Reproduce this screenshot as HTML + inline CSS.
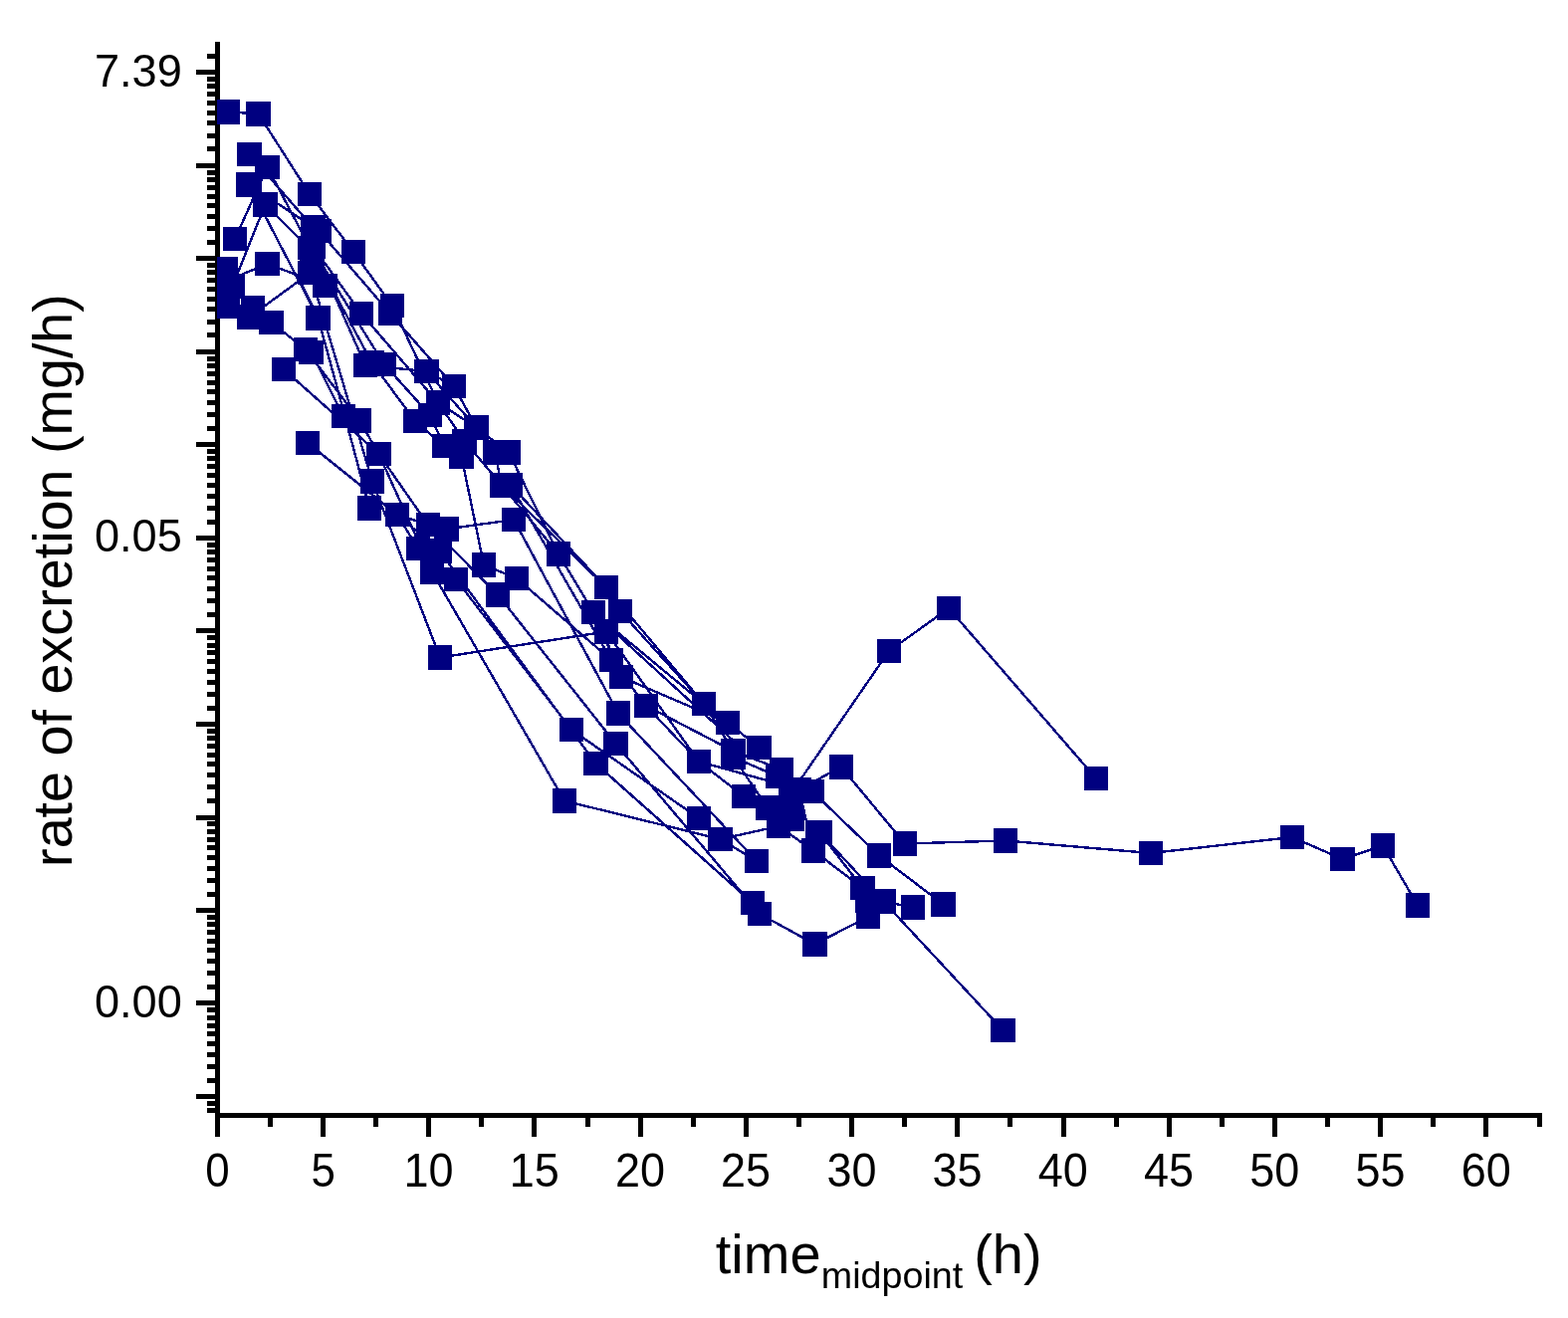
<!DOCTYPE html>
<html><head><meta charset="utf-8"><title>rate of excretion</title>
<style>html,body{margin:0;padding:0;background:#fff}svg{display:block}</style>
</head><body>
<svg width="1575" height="1324" viewBox="0 0 1575 1324">
<defs><clipPath id="c"><rect x="218" y="0" width="1400" height="1118"/></clipPath></defs>
<rect width="1575" height="1324" fill="#fff"/>
<g fill="#000" shape-rendering="crispEdges">
<rect x="216" y="42" width="5" height="1081"/>
<rect x="216" y="1118" width="1333" height="5"/>
<rect x="208" y="54" width="9" height="5"/>
<rect x="197" y="70" width="20" height="5"/>
<rect x="208" y="147" width="9" height="5"/>
<rect x="208" y="134" width="9" height="5"/>
<rect x="208" y="121" width="9" height="5"/>
<rect x="208" y="111" width="9" height="5"/>
<rect x="208" y="101" width="9" height="5"/>
<rect x="208" y="92" width="9" height="5"/>
<rect x="208" y="84" width="9" height="5"/>
<rect x="208" y="77" width="9" height="5"/>
<rect x="197" y="164" width="20" height="5"/>
<rect x="208" y="241" width="9" height="5"/>
<rect x="208" y="227" width="9" height="5"/>
<rect x="208" y="215" width="9" height="5"/>
<rect x="208" y="204" width="9" height="5"/>
<rect x="208" y="195" width="9" height="5"/>
<rect x="208" y="186" width="9" height="5"/>
<rect x="208" y="178" width="9" height="5"/>
<rect x="208" y="171" width="9" height="5"/>
<rect x="197" y="257" width="20" height="5"/>
<rect x="208" y="334" width="9" height="5"/>
<rect x="208" y="321" width="9" height="5"/>
<rect x="208" y="308" width="9" height="5"/>
<rect x="208" y="298" width="9" height="5"/>
<rect x="208" y="288" width="9" height="5"/>
<rect x="208" y="279" width="9" height="5"/>
<rect x="208" y="271" width="9" height="5"/>
<rect x="208" y="264" width="9" height="5"/>
<rect x="197" y="351" width="20" height="5"/>
<rect x="208" y="428" width="9" height="5"/>
<rect x="208" y="414" width="9" height="5"/>
<rect x="208" y="402" width="9" height="5"/>
<rect x="208" y="391" width="9" height="5"/>
<rect x="208" y="382" width="9" height="5"/>
<rect x="208" y="373" width="9" height="5"/>
<rect x="208" y="365" width="9" height="5"/>
<rect x="208" y="358" width="9" height="5"/>
<rect x="197" y="444" width="20" height="5"/>
<rect x="208" y="522" width="9" height="5"/>
<rect x="208" y="508" width="9" height="5"/>
<rect x="208" y="496" width="9" height="5"/>
<rect x="208" y="485" width="9" height="5"/>
<rect x="208" y="475" width="9" height="5"/>
<rect x="208" y="466" width="9" height="5"/>
<rect x="208" y="458" width="9" height="5"/>
<rect x="208" y="451" width="9" height="5"/>
<rect x="197" y="538" width="20" height="5"/>
<rect x="208" y="615" width="9" height="5"/>
<rect x="208" y="601" width="9" height="5"/>
<rect x="208" y="589" width="9" height="5"/>
<rect x="208" y="578" width="9" height="5"/>
<rect x="208" y="569" width="9" height="5"/>
<rect x="208" y="560" width="9" height="5"/>
<rect x="208" y="552" width="9" height="5"/>
<rect x="208" y="545" width="9" height="5"/>
<rect x="197" y="631" width="20" height="5"/>
<rect x="208" y="709" width="9" height="5"/>
<rect x="208" y="695" width="9" height="5"/>
<rect x="208" y="683" width="9" height="5"/>
<rect x="208" y="672" width="9" height="5"/>
<rect x="208" y="662" width="9" height="5"/>
<rect x="208" y="653" width="9" height="5"/>
<rect x="208" y="646" width="9" height="5"/>
<rect x="208" y="638" width="9" height="5"/>
<rect x="197" y="725" width="20" height="5"/>
<rect x="208" y="802" width="9" height="5"/>
<rect x="208" y="788" width="9" height="5"/>
<rect x="208" y="776" width="9" height="5"/>
<rect x="208" y="765" width="9" height="5"/>
<rect x="208" y="756" width="9" height="5"/>
<rect x="208" y="747" width="9" height="5"/>
<rect x="208" y="739" width="9" height="5"/>
<rect x="208" y="732" width="9" height="5"/>
<rect x="197" y="819" width="20" height="5"/>
<rect x="208" y="896" width="9" height="5"/>
<rect x="208" y="882" width="9" height="5"/>
<rect x="208" y="870" width="9" height="5"/>
<rect x="208" y="859" width="9" height="5"/>
<rect x="208" y="849" width="9" height="5"/>
<rect x="208" y="841" width="9" height="5"/>
<rect x="208" y="833" width="9" height="5"/>
<rect x="208" y="825" width="9" height="5"/>
<rect x="197" y="912" width="20" height="5"/>
<rect x="208" y="989" width="9" height="5"/>
<rect x="208" y="975" width="9" height="5"/>
<rect x="208" y="963" width="9" height="5"/>
<rect x="208" y="952" width="9" height="5"/>
<rect x="208" y="943" width="9" height="5"/>
<rect x="208" y="934" width="9" height="5"/>
<rect x="208" y="926" width="9" height="5"/>
<rect x="208" y="919" width="9" height="5"/>
<rect x="197" y="1005" width="20" height="5"/>
<rect x="208" y="1083" width="9" height="5"/>
<rect x="208" y="1069" width="9" height="5"/>
<rect x="208" y="1057" width="9" height="5"/>
<rect x="208" y="1046" width="9" height="5"/>
<rect x="208" y="1036" width="9" height="5"/>
<rect x="208" y="1028" width="9" height="5"/>
<rect x="208" y="1020" width="9" height="5"/>
<rect x="208" y="1012" width="9" height="5"/>
<rect x="197" y="1099" width="20" height="5"/>
<rect x="208" y="1113" width="9" height="5"/>
<rect x="208" y="1106" width="9" height="5"/>
<rect x="216" y="1122" width="5" height="20"/>
<rect x="269" y="1122" width="5" height="10"/>
<rect x="322" y="1122" width="5" height="20"/>
<rect x="375" y="1122" width="5" height="10"/>
<rect x="428" y="1122" width="5" height="20"/>
<rect x="481" y="1122" width="5" height="10"/>
<rect x="534" y="1122" width="5" height="20"/>
<rect x="588" y="1122" width="5" height="10"/>
<rect x="641" y="1122" width="5" height="20"/>
<rect x="694" y="1122" width="5" height="10"/>
<rect x="747" y="1122" width="5" height="20"/>
<rect x="800" y="1122" width="5" height="10"/>
<rect x="853" y="1122" width="5" height="20"/>
<rect x="906" y="1122" width="5" height="10"/>
<rect x="959" y="1122" width="5" height="20"/>
<rect x="1012" y="1122" width="5" height="10"/>
<rect x="1066" y="1122" width="5" height="20"/>
<rect x="1119" y="1122" width="5" height="10"/>
<rect x="1172" y="1122" width="5" height="20"/>
<rect x="1225" y="1122" width="5" height="10"/>
<rect x="1278" y="1122" width="5" height="20"/>
<rect x="1331" y="1122" width="5" height="10"/>
<rect x="1384" y="1122" width="5" height="20"/>
<rect x="1437" y="1122" width="5" height="10"/>
<rect x="1490" y="1122" width="5" height="20"/>
<rect x="1544" y="1122" width="5" height="10"/>
</g>
<g font-family="'Liberation Sans', sans-serif" fill="#000">
<text transform="translate(182.8,86.9) scale(1.003,1.04)" font-size="45" text-anchor="end">7.39</text>
<text transform="translate(182.8,554.3) scale(1.003,1.04)" font-size="45" text-anchor="end">0.05</text>
<text transform="translate(182.8,1021.8) scale(1.003,1.04)" font-size="45" text-anchor="end">0.00</text>
<text transform="translate(218.4,1191.9) scale(0.975,1.065)" font-size="45" text-anchor="middle">0</text>
<text transform="translate(324.6,1191.9) scale(0.975,1.065)" font-size="45" text-anchor="middle">5</text>
<text transform="translate(430.4,1191.9) scale(1.0,1.065)" font-size="45" text-anchor="middle">10</text>
<text transform="translate(536.7,1191.9) scale(1.0,1.065)" font-size="45" text-anchor="middle">15</text>
<text transform="translate(642.9,1191.9) scale(1.0,1.065)" font-size="45" text-anchor="middle">20</text>
<text transform="translate(749.1,1191.9) scale(1.0,1.065)" font-size="45" text-anchor="middle">25</text>
<text transform="translate(855.4,1191.9) scale(1.0,1.065)" font-size="45" text-anchor="middle">30</text>
<text transform="translate(961.6,1191.9) scale(1.0,1.065)" font-size="45" text-anchor="middle">35</text>
<text transform="translate(1067.8,1191.9) scale(1.0,1.065)" font-size="45" text-anchor="middle">40</text>
<text transform="translate(1174.0,1191.9) scale(1.0,1.065)" font-size="45" text-anchor="middle">45</text>
<text transform="translate(1280.2,1191.9) scale(1.0,1.065)" font-size="45" text-anchor="middle">50</text>
<text transform="translate(1386.5,1191.9) scale(1.0,1.065)" font-size="45" text-anchor="middle">55</text>
<text transform="translate(1492.7,1191.9) scale(1.0,1.065)" font-size="45" text-anchor="middle">60</text>
<text transform="translate(718.8,1278.5) scale(1.018,1)" font-size="55">time<tspan font-size="37" dx="0.3" dy="15.1">midpoint</tspan><tspan font-size="55" dx="-4.5" dy="-15.1"> (h)</tspan></text>
<text transform="translate(72,583) rotate(-90) scale(1.013,1)" font-size="55" text-anchor="middle">rate of excretion (mg/h)</text>
</g>
<g clip-path="url(#c)" shape-rendering="crispEdges">
<g fill="none" stroke="#000080" stroke-width="2.4">
<polyline points="229,112.4 259.5,114.4 311,195 355.1,253 394,307 440,404.5"/>
<polyline points="250.5,155 314.5,228.5"/>
<polyline points="268.5,168 311.5,249"/>
<polyline points="236,240 268.5,168"/>
<polyline points="250,185.5 320.5,232 392,314.8 456,388"/>
<polyline points="233.5,287.3 266.5,205.4 311.5,250.2"/>
<polyline points="300,279 319.5,319.5 346.5,418 371,510.5"/>
<polyline points="314.5,248 363,315 440,404.5"/>
<polyline points="314.5,248 367,367 428.5,373 456,388"/>
<polyline points="311.5,249 373.5,364 417,423 446,448"/>
<polyline points="313,249 386,366 432,417 446,448"/>
<polyline points="250,185.5 319.5,319.5"/>
<polyline points="230,281 268.5,265 326.5,287"/>
<polyline points="250.5,318.5 311.5,274 374,483.5 442,660.5 609,634.5"/>
<polyline points="272.5,324 307,351 361,422"/>
<polyline points="312.5,354 345,418"/>
<polyline points="285,371 380.5,456 430,527 500,597.5 618.5,747 763,918 818.5,948.5 872,921"/>
<polyline points="361,422.5 380.5,456 434,574.5 567,804.5 723.5,843 782,830 817,854.5 866.5,892"/>
<polyline points="309,445 399,517 430,527"/>
<polyline points="399,517 420,551 458,582 574,733 702,822"/>
<polyline points="399,517 441.5,553.5 598.5,767 756,907"/>
<polyline points="463.5,458.5 486,567.5 519,581 614,663 649,709 702,765 747,800"/>
<polyline points="456,388 478.5,429.5 511,454.5 561,556.5 596,615"/>
<polyline points="428.5,373 478.5,429.5"/>
<polyline points="440,404.5 478.5,429.5"/>
<polyline points="440,404.5 466.5,443 504,487.5 561,556.5"/>
<polyline points="478.5,429.5 497,454.5 504,487.5"/>
<polyline points="513,487.5 609,590 707,707 731,726 762.5,751"/>
<polyline points="596,615.4 736.5,744"/>
<polyline points="596,615 707,707"/>
<polyline points="609,634.5 702,765"/>
<polyline points="513,487.5 614,663"/>
<polyline points="596,615 624,680"/>
<polyline points="609,634.5 614,663"/>
<polyline points="504,487.5 609,590"/>
<polyline points="448.5,531.5 516,522 621,716.5 760,865"/>
<polyline points="723.5,843 760,865"/>
<polyline points="623,614 707,707 736.5,754.5 785,773"/>
<polyline points="624,680 731,726"/>
<polyline points="649,709 736.5,754.5"/>
<polyline points="736.5,760.5 781,780"/>
<polyline points="736.5,760.5 771,811.5"/>
<polyline points="702,765 802.5,793 845,770.5 909,847.5 1010,844.5 1156,857 1298,841 1348.5,863 1389,849.5 1424,909.5"/>
<polyline points="792.5,800 893,654 953,611 1101,782"/>
<polyline points="816,795 883,859.5 947.5,908.5"/>
<polyline points="823,836 866.5,892"/>
<polyline points="802.5,793 817,854.5"/>
<polyline points="823,836 887.5,905.5 1007.5,1035"/>
<polyline points="887.5,905.5 917,911.5"/>
</g>
<g fill="#000080">
<rect x="217" y="100" width="24" height="25"/>
<rect x="247" y="102" width="25" height="25"/>
<rect x="238" y="143" width="25" height="24"/>
<rect x="256" y="156" width="25" height="24"/>
<rect x="237" y="173" width="25" height="25"/>
<rect x="238" y="173" width="25" height="25"/>
<rect x="254" y="193" width="25" height="25"/>
<rect x="299" y="183" width="24" height="24"/>
<rect x="224" y="228" width="24" height="24"/>
<rect x="256" y="253" width="25" height="24"/>
<rect x="343" y="241" width="24" height="24"/>
<rect x="302" y="216" width="25" height="25"/>
<rect x="308" y="220" width="25" height="24"/>
<rect x="302" y="236" width="25" height="24"/>
<rect x="299" y="237" width="25" height="24"/>
<rect x="299" y="262" width="25" height="24"/>
<rect x="314" y="275" width="25" height="24"/>
<rect x="214" y="258" width="25" height="25"/>
<rect x="221" y="275" width="25" height="25"/>
<rect x="216" y="295" width="25" height="25"/>
<rect x="214" y="277" width="24" height="24"/>
<rect x="301" y="250" width="25" height="24"/>
<rect x="242" y="297" width="24" height="25"/>
<rect x="238" y="306" width="25" height="25"/>
<rect x="260" y="312" width="25" height="24"/>
<rect x="307" y="307" width="25" height="25"/>
<rect x="351" y="303" width="24" height="24"/>
<rect x="382" y="295" width="24" height="24"/>
<rect x="380" y="302" width="24" height="25"/>
<rect x="295" y="339" width="24" height="24"/>
<rect x="300" y="342" width="25" height="24"/>
<rect x="273" y="359" width="24" height="24"/>
<rect x="355" y="355" width="24" height="24"/>
<rect x="361" y="352" width="25" height="25"/>
<rect x="373" y="354" width="25" height="24"/>
<rect x="416" y="361" width="25" height="24"/>
<rect x="444" y="376" width="24" height="24"/>
<rect x="428" y="392" width="24" height="25"/>
<rect x="420" y="405" width="24" height="24"/>
<rect x="405" y="411" width="24" height="24"/>
<rect x="333" y="406" width="24" height="24"/>
<rect x="349" y="410" width="24" height="25"/>
<rect x="297" y="433" width="24" height="24"/>
<rect x="368" y="444" width="25" height="24"/>
<rect x="466" y="417" width="25" height="25"/>
<rect x="434" y="436" width="24" height="24"/>
<rect x="454" y="431" width="25" height="24"/>
<rect x="451" y="446" width="25" height="25"/>
<rect x="485" y="442" width="24" height="25"/>
<rect x="499" y="442" width="24" height="25"/>
<rect x="362" y="471" width="24" height="25"/>
<rect x="492" y="475" width="24" height="25"/>
<rect x="501" y="475" width="24" height="25"/>
<rect x="359" y="498" width="24" height="25"/>
<rect x="387" y="505" width="24" height="24"/>
<rect x="418" y="515" width="24" height="24"/>
<rect x="436" y="519" width="25" height="25"/>
<rect x="408" y="539" width="24" height="24"/>
<rect x="429" y="541" width="25" height="25"/>
<rect x="422" y="562" width="24" height="25"/>
<rect x="446" y="570" width="24" height="24"/>
<rect x="474" y="555" width="24" height="25"/>
<rect x="507" y="569" width="24" height="24"/>
<rect x="488" y="585" width="24" height="25"/>
<rect x="504" y="510" width="24" height="24"/>
<rect x="549" y="544" width="24" height="25"/>
<rect x="597" y="578" width="24" height="24"/>
<rect x="611" y="602" width="24" height="24"/>
<rect x="584" y="603" width="24" height="24"/>
<rect x="597" y="622" width="24" height="25"/>
<rect x="602" y="651" width="24" height="24"/>
<rect x="612" y="668" width="24" height="24"/>
<rect x="637" y="697" width="24" height="24"/>
<rect x="695" y="695" width="24" height="24"/>
<rect x="719" y="714" width="24" height="24"/>
<rect x="609" y="704" width="24" height="25"/>
<rect x="562" y="721" width="24" height="24"/>
<rect x="606" y="735" width="25" height="24"/>
<rect x="586" y="755" width="25" height="24"/>
<rect x="555" y="792" width="24" height="25"/>
<rect x="690" y="753" width="24" height="24"/>
<rect x="724" y="742" width="25" height="25"/>
<rect x="724" y="748" width="25" height="25"/>
<rect x="750" y="739" width="25" height="24"/>
<rect x="773" y="761" width="24" height="24"/>
<rect x="769" y="768" width="24" height="24"/>
<rect x="735" y="788" width="24" height="24"/>
<rect x="759" y="799" width="25" height="25"/>
<rect x="804" y="783" width="24" height="24"/>
<rect x="790" y="781" width="25" height="24"/>
<rect x="782" y="788" width="24" height="25"/>
<rect x="784" y="811" width="24" height="24"/>
<rect x="770" y="818" width="24" height="24"/>
<rect x="833" y="758" width="24" height="25"/>
<rect x="809" y="824" width="25" height="24"/>
<rect x="811" y="824" width="25" height="24"/>
<rect x="805" y="842" width="24" height="25"/>
<rect x="690" y="810" width="24" height="24"/>
<rect x="711" y="831" width="25" height="24"/>
<rect x="748" y="853" width="24" height="24"/>
<rect x="871" y="847" width="24" height="25"/>
<rect x="897" y="835" width="24" height="25"/>
<rect x="854" y="880" width="25" height="24"/>
<rect x="875" y="893" width="25" height="25"/>
<rect x="860" y="909" width="24" height="24"/>
<rect x="859" y="893" width="24" height="24"/>
<rect x="905" y="899" width="24" height="25"/>
<rect x="935" y="896" width="25" height="25"/>
<rect x="744" y="895" width="24" height="24"/>
<rect x="751" y="906" width="24" height="24"/>
<rect x="806" y="936" width="25" height="25"/>
<rect x="881" y="642" width="24" height="24"/>
<rect x="941" y="599" width="24" height="24"/>
<rect x="1089" y="770" width="24" height="24"/>
<rect x="998" y="832" width="24" height="25"/>
<rect x="1144" y="845" width="24" height="24"/>
<rect x="1286" y="829" width="24" height="24"/>
<rect x="1336" y="851" width="25" height="24"/>
<rect x="1377" y="837" width="24" height="25"/>
<rect x="1412" y="897" width="24" height="25"/>
<rect x="995" y="1023" width="25" height="24"/>
<rect x="430" y="648" width="24" height="25"/>
</g></g>
</svg>
</body></html>
